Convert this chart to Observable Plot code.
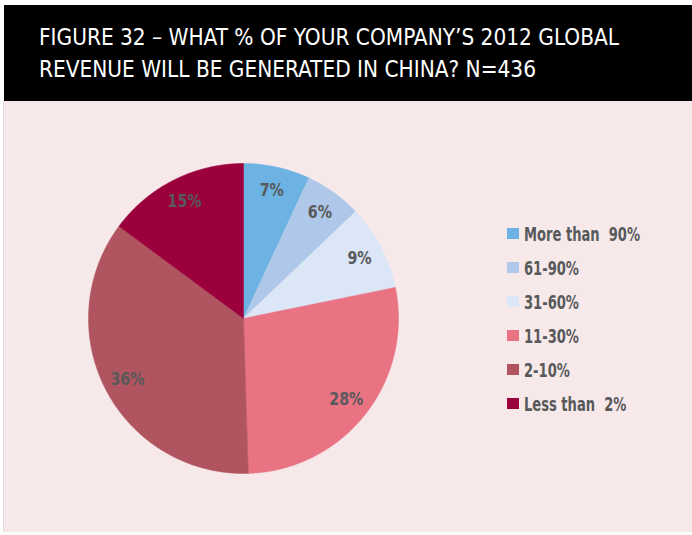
<!DOCTYPE html>
<html>
<head>
<meta charset="utf-8">
<script src="https://cdn.jsdelivr.net/npm/d3@7"></script>
<script src="https://cdn.jsdelivr.net/npm/@observablehq/plot@0.6"></script>
<style>
  html, body { margin: 0; padding: 0; background: #ffffff; }
  #wrap { position: relative; width: 692px; height: 535px; overflow: hidden; }
  #title {
    position: absolute; left: 4px; top: 5px; width: 688px; height: 96px;
    background: #000; color: #fff;
    font-family: "DejaVu Sans Condensed", "Liberation Sans Narrow", "Roboto", sans-serif;
    font-size: 23px; line-height: 23px;
  }
  #title .t { position: absolute; left: 35px; white-space: nowrap; transform-origin: 0 0; }
  #panel {
    position: absolute; left: 3px; top: 101px; width: 689px; height: 431px;
    background: #f7e9ea; border-left: 1px solid #dcdcdc;
  }
  #chart { position: absolute; left: 0; top: 101px; }
  #legend {
    position: absolute; left: 0; top: 0; width: 692px; height: 535px;
    font-family: "DejaVu Sans Condensed", "Liberation Sans Narrow", "Roboto", sans-serif;
    font-weight: bold; font-size: 19px; line-height: 19px; color: #58595b;
  }
  #legend .sw { position: absolute; width: 12px; height: 11px; }
  #legend .lb { position: absolute; white-space: pre; transform-origin: 0 0; }
</style>
</head>
<body>
<div id="wrap">
  <div id="panel"></div>
  <div id="title">
    <div class="t" id="t1" style="top:20.5px">FIGURE 32 – WHAT % OF YOUR COMPANY’S 2012 GLOBAL</div>
    <div class="t" id="t2" style="top:52.5px">REVENUE WILL BE GENERATED IN CHINA? N=436</div>
  </div>
  <div id="chart"></div>
  <div id="legend"></div>
</div>
<script>
const categories = ["More than 90%", "61-90%", "31-60%", "11-30%", "2-10%", "Less than 2%"];
const shares = [7, 6, 9, 28, 36, 15];
const legendLabels = ["More than  90%", "61-90%", "31-60%", "11-30%", "2-10%", "Less than  2%"];
const colors = ["#6cb3e3", "#afc8e9", "#dbe6f6", "#e97283", "#b05560", "#9b003c"];

const data = categories.map((c, i) => ({category: c, value: shares[i], color: colors[i]}));
const arcs = d3.pie().sort(null).value(d => d.value)(data);

// polygon outline for each slice (unit radius, angle clockwise from 12 o'clock)
const polys = arcs.map(a => {
  const pts = [{x: 0, y: 0}];
  const n = Math.max(2, Math.ceil((a.endAngle - a.startAngle) / 0.01));
  for (let k = 0; k <= n; k++) {
    const t = a.startAngle + (a.endAngle - a.startAngle) * k / n;
    pts.push({x: Math.sin(t), y: Math.cos(t)});
  }
  pts.push({x: 0, y: 0});
  return {arc: a, pts};
});

const labelR = 0.845;
const labels = arcs.map(a => {
  const m = (a.startAngle + a.endAngle) / 2;
  return {x: labelR * Math.sin(m), y: labelR * Math.cos(m), text: a.data.value + "%"};
});

const W = 692, H = 431, cx = 243, cy = 217, R = 155;
const plot = Plot.plot({
  width: W, height: H,
  margin: 0,
  style: {background: "transparent", overflow: "visible"},
  x: {domain: [-cx / R, (W - cx) / R], axis: null},
  y: {domain: [-(H - cy) / R, cy / R], axis: null},
  marks: [
    ...polys.map(p => Plot.line(p.pts, {x: "x", y: "y", fill: p.arc.data.color, stroke: p.arc.data.color, strokeWidth: 0.5, curve: "linear"})),
    Plot.text(labels, {x: "x", y: "y", text: "text", fill: "#58595b", fontSize: 18, fontWeight: "bold",
      fontFamily: "'DejaVu Sans Condensed', 'Liberation Sans Narrow', Roboto, sans-serif"})
  ]
});
document.getElementById("chart").appendChild(plot);

// condense pie labels horizontally (reference uses a condensed face)
plot.querySelectorAll("text").forEach(t => {
  const w = t.getComputedTextLength();
  t.setAttribute("textLength", (w * 0.88).toFixed(1));
  t.setAttribute("lengthAdjust", "spacingAndGlyphs");
});

// condense title to the reference width
const t1 = document.getElementById("t1"), t2 = document.getElementById("t2");
const k = 580 / t1.getBoundingClientRect().width;
t1.style.transform = `scaleX(${k})`;
t2.style.transform = `scaleX(${k})`;

// legend
const legend = document.getElementById("legend");
let lk = 1;
data.forEach((d, i) => {
  const baseline = 240.7 + i * 34;
  const sw = document.createElement("div");
  sw.className = "sw"; sw.style.background = d.color;
  sw.style.left = "507px"; sw.style.top = (baseline - 12.5) + "px";
  const lb = document.createElement("div");
  lb.className = "lb"; lb.textContent = legendLabels[i];
  lb.style.left = "524px"; lb.style.top = (baseline - 16.1) + "px";
  legend.appendChild(sw); legend.appendChild(lb);
  if (i === 0) lk = 116 / lb.getBoundingClientRect().width;
  lb.style.transform = `scaleX(${lk})`;
});
</script>
</body>
</html>
